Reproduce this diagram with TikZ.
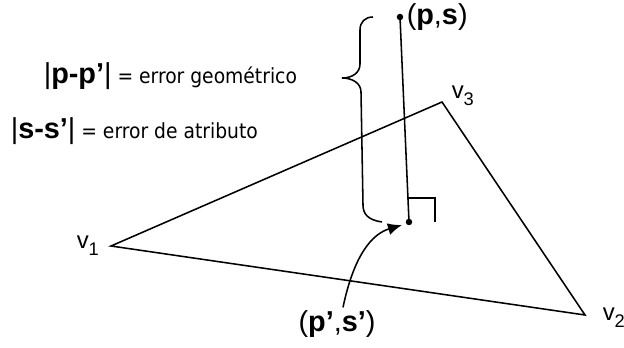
\documentclass[tikz,border=0pt]{standalone}
\usepackage{fontspec}
\setmainfont{Liberation Sans}
\newfontfamily\condfont{DejaVu Sans Condensed}
\usetikzlibrary{arrows.meta}
\newcommand{\vlab}[1]{v\raisebox{-0.6ex}{\fontsize{13}{13}\selectfont #1}}
\newcommand{\bigtxt}{\fontsize{20.5}{24}\selectfont}

\begin{document}
\begin{tikzpicture}[x=0.025cm, y=-0.025cm, line width=1.1pt,
    every node/.style={inner sep=0pt, font=\condfont\fontsize{14.8}{18}\selectfont},
    vertlab/.style={anchor=base west, font=\rmfamily\fontsize{17}{19}\selectfont},
    ptdot/.style={circle, fill=black, minimum size=4.6pt}]
  \useasboundingbox (0,0) rectangle (624,348);

  \coordinate (v1) at (111,246);
  \coordinate (v2) at (585,315);
  \coordinate (v3) at (442,102);
  \coordinate (ps) at (400,17);
  \coordinate (pps) at (409,222);
  \coordinate (ra) at (408,198);

  \node[anchor=base west] (geo) at (43,83) {{\rmfamily\bigtxt|\textbf{p-p’}|} = error geométrico};
  \node[anchor=base west] (atr) at (10,138) {{\rmfamily\bigtxt|\textbf{s-s’}|} = error de atributo};

  \node[vertlab] (lv1) at (76,248) {\vlab{1}};
  \node[vertlab] (lv3) at (451,98) {\vlab{3}};
  \node[vertlab] (lv2) at (602,320) {\vlab{2}};

  \node[anchor=west, font=\rmfamily\bigtxt] (lps) at (406,17) {(\textbf{p},\textbf{s})};
  \node[anchor=base, font=\rmfamily\bigtxt] (lpps) at (337,331) {(\textbf{p’},\textbf{s’})};

  \draw (v1) -- (v2) -- (v3) -- cycle;
  \draw (ps) -- (pps);
  \draw (ra) -- (435,198) -- (435,222);
  \node[ptdot] at (ps) {};
  \node[ptdot] at (pps) {};

  \draw (382,222) .. controls (368,220) and (363,214) .. (363,205)
    -- (361,92) .. controls (361,83) and (352,78) .. (342,78)
    .. controls (352,78) and (360,73) .. (360,64)
    -- (360,30) .. controls (360,22) and (365,17) .. (373,17);

  \draw[-{Latex[length=10pt, width=8.5pt]}] (lpps.north) ++(6,-2) .. controls (354,255) and (372,234) .. (402,225);
\end{tikzpicture}
\end{document}
